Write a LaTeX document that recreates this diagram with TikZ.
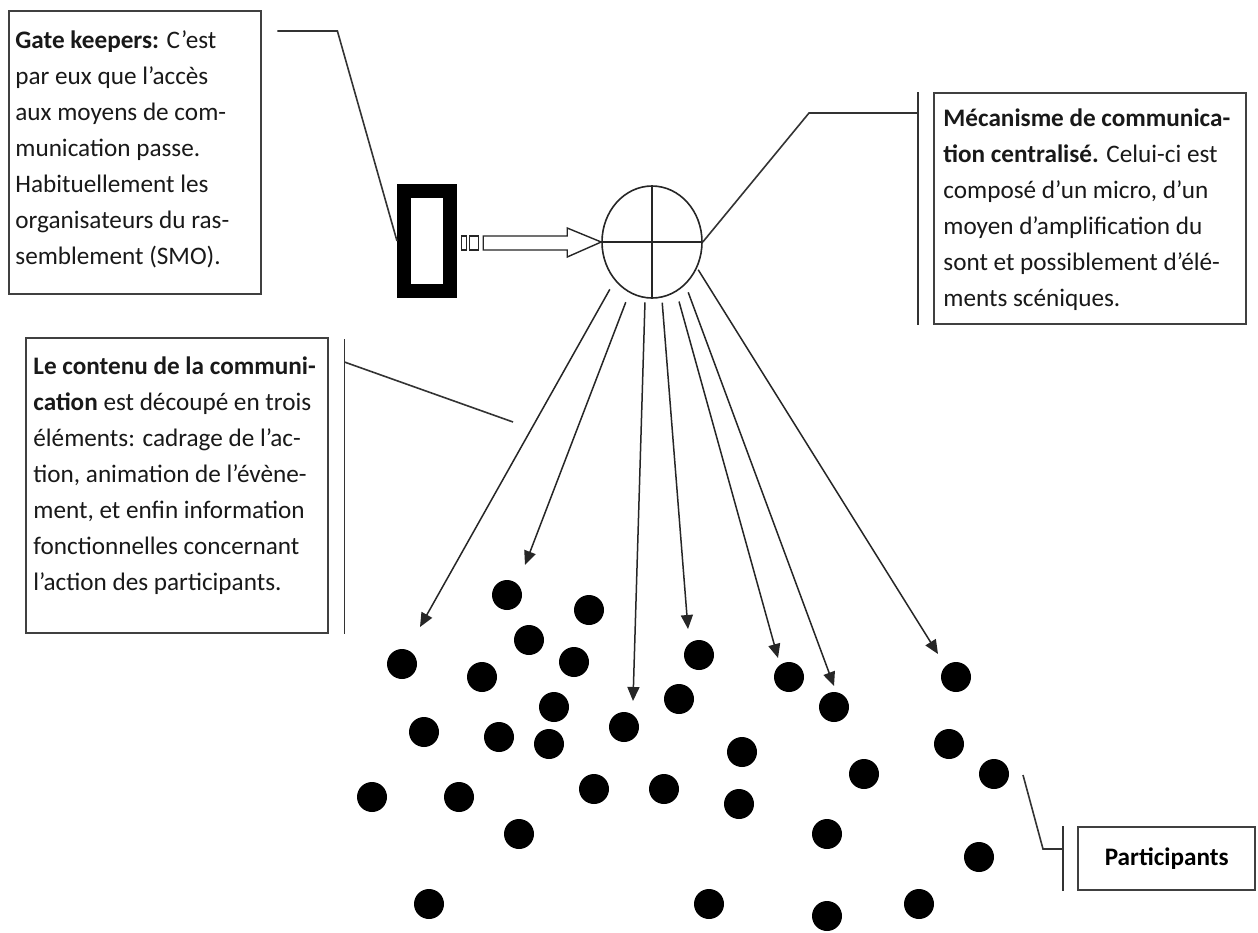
\documentclass[tikz,border=0pt]{standalone}
\usepackage{fontspec}
\setmainfont{Carlito}
\usetikzlibrary{shapes.geometric,arrows.meta}
\tikzstyle{frame}=[rectangle, draw=black!75, line width=1.2pt, inner sep=0pt, anchor=north west]
\tikzstyle{txt}=[inner sep=0pt, anchor=north west, align=left, text=black!90, font=\fontsize{12.6}{18}\selectfont]
\tikzstyle{leader}=[draw=black!80, line width=0.8pt]
\tikzstyle{ray}=[draw=black!85, line width=0.75pt, -{Triangle[length=7pt,width=6pt]}]
\tikzstyle{person}=[circle, fill=black, minimum size=15pt, inner sep=0pt]
\tikzstyle{gkbox}=[rectangle, draw=black, line width=7pt, minimum width=23pt, minimum height=50pt, inner sep=0pt]
\tikzstyle{hollow}=[draw=black!85, line width=0.7pt]

\begin{document}
\begin{tikzpicture}[x=0.5pt, y=-0.5pt]
\useasboundingbox[fill=white] (0,0) rectangle (1258,932);

% text boxes
\node[frame, minimum width=126pt, minimum height=141.5pt] (gate) at (8,10) {};
\node[txt] (gatetxt) at ([shift={(7,20)}]gate.north west) {\textbf{Gate keepers:} C’est\\ par eux que l’accès\\ aux moyens de com-\\ munication passe.\\ Habituellement les\\ organisateurs du ras-\\ semblement (SMO).};
\node[frame, minimum width=156pt, minimum height=115.5pt] (mech) at (933,92) {};
\node[txt] (mechtxt) at ([shift={(10,16)}]mech.north west) {\textbf{Mécanisme de communica-}\\ \textbf{tion centralisé.} Celui-ci est\\ composé d’un micro, d’un\\ moyen d’amplification du\\ sont et possiblement d’élé-\\ ments scéniques.};
\node[frame, minimum width=151pt, minimum height=147.5pt] (cont) at (25,337) {};
\node[txt] (conttxt) at ([shift={(8,19)}]cont.north west) {\textbf{Le contenu de la communi-}\\ \textbf{cation} est découpé en trois\\ éléments: cadrage de l’ac-\\ tion, animation de l’évène-\\ ment, et enfin information\\ fonctionnelles concernant\\ l’action des participants.};
\node[frame, minimum width=88.5pt, minimum height=31.5pt, font=\fontsize{12.6}{18}\selectfont\bfseries] (part) at (1077,826) {Participants};

% gate keeper and micro
\node[gkbox] (gk) at (427,241) {};
\node[ellipse, draw=black!85, line width=0.8pt, minimum width=50pt, minimum height=56pt, inner sep=0pt] (mic) at (652,242) {};
\draw[hollow] (mic.north) -- (mic.south);
\draw[hollow] (mic.west) -- (mic.east);

% striped arrow
\draw[hollow] (mic.west) -- ++(-34,-14) -- ++(0,8) -- ++(-84,0) -- ++(0,14) -- ++(84,0) -- ++(0,7) -- cycle;
\draw[hollow] (mic.west) ++(-132,-6) rectangle ++(9,14);
\draw[hollow] (mic.west) ++(-140,-6) rectangle ++(5,14);

% participants
\foreach \x/\y [count=\i] in {507/595, 589/610, 529/640, 402/664, 482/677, 574/662, 554/707, 424/732,
  499/737, 549/744, 624/727, 679/699, 699/655, 372/797, 459/797, 594/789, 664/789, 519/834, 429/904,
  709/904, 789/677, 834/707, 956/677, 742/752, 739/804, 864/774, 949/744, 994/774, 827/834, 979/857,
  827/916, 919/904}
  \node[person] (p\i) at (\x,\y) {};

% rays from the micro
\foreach \ang/\gap/\ex/\ey [count=\i] in {-134/5/420/627, -114/5/525/565, -97/2/633/701, -80/2.5/688/629,
  -64/5/778/658, -52/4/834/686, -30/1/938/654}
{
  \coordinate (t\i) at (\ex,\ey);
  \draw[ray, shorten <=\gap pt] (mic.\ang) -- (t\i);
}

% leaders
\draw[leader] ([shift={(15,21)}]gate.north east) -- ++(60,0) -- (gk.west);
\coordinate (mb1) at ([xshift=-7.5pt]mech.north west);
\coordinate (mb2) at ([xshift=-7.5pt]mech.south west);
\draw[leader] (mb1) -- (mb2);
\draw[leader] (mic.east) -- (809,113) -- (mb1 |- 809,113);
\coordinate (cb1) at ([shift={(15,2)}]cont.north east);
\coordinate (cb2) at ([xshift=7.5pt]cont.south east);
\draw[leader] (cb1) -- (cb2);
\coordinate (cl) at (513,422);
\draw[leader] (cb1 |- 0,362) -- (cl);
\coordinate (pb1) at ([xshift=-7pt]part.north west);
\coordinate (pb2) at ([xshift=-7pt]part.south west);
\draw[leader] (pb1) -- (pb2);
\coordinate (pl) at (1023,775);
\draw[leader] (pl) -- (1043,849) -- (pb1 |- 0,849);

\end{tikzpicture}
\end{document}
